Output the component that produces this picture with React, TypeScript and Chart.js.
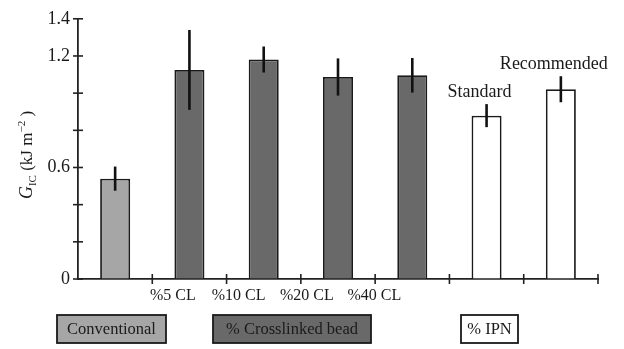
import React, { useEffect, useRef } from "react";
import { Chart, registerables } from "chart.js";

Chart.register(...registerables);

// ---- data ----
const categories = ["Conventional", "%5 CL", "%10 CL", "%20 CL", "%40 CL", "Standard", "Recommended"];
const groups = ["conv", "cl", "cl", "cl", "cl", "ipn", "ipn"];
const gicValues = [0.54, 1.125, 1.181, 1.087, 1.096, 0.879, 1.021];
const gicErrors = [0.065, 0.215, 0.07, 0.1, 0.093, 0.062, 0.07];
const axisLabels = ["", "%5 CL", "%10 CL", "%20 CL", "%40 CL", "", ""];
const barNotes = ["", "", "", "", "", "Standard", "Recommended"];
const yTickLabels = [0, 0.6, 1.2, 1.4];
const legendLabels = ["Conventional", "% Crosslinked bead", "% IPN"];
const legendGroups = ["conv", "cl", "ipn"];

// ---- styling / layout ----
const groupColors: Record<string, string> = { conv: "#a6a6a6", cl: "#696969", ipn: "#ffffff" };
const FONT = "'Liberation Serif', 'Times New Roman', serif";
const INK = "#1a1a1a";
const labelShift = [0, -16.6, -25.2, -31.2, -38, 0, 0];
const legendBoxes = [
  { x: 57, w: 109 },
  { x: 213, w: 158 },
  { x: 461, w: 57 },
];
const LEGEND_Y = 315;
const LEGEND_H = 28;

const overlay = {
  id: "overlay",
  afterDraw(chart: any) {
    const ctx = chart.ctx as CanvasRenderingContext2D;
    const xs = chart.scales.x;
    const ys = chart.scales.y;
    const area = chart.chartArea;
    const meta = chart.getDatasetMeta(0);
    ctx.save();

    // tick crosses on y axis
    ctx.strokeStyle = "#222";
    ctx.lineWidth = 1.6;
    ys.ticks.forEach((t: any) => {
      const y = ys.getPixelForValue(t.value);
      ctx.beginPath();
      ctx.moveTo(area.left - 5, y);
      ctx.lineTo(area.left + 5, y);
      ctx.stroke();
    });
    // tick crosses on x axis at category boundaries
    for (let i = 1; i <= categories.length; i++) {
      const x = xs.getPixelForValue(i - 0.5);
      ctx.beginPath();
      ctx.moveTo(x, area.bottom - 5);
      ctx.lineTo(x, area.bottom + 5);
      ctx.stroke();
    }

    // error bars
    ctx.strokeStyle = "#111";
    ctx.lineWidth = 2.6;
    meta.data.forEach((bar: any, i: number) => {
      const yTop = ys.getPixelForValue(gicValues[i] + gicErrors[i]);
      const yBot = ys.getPixelForValue(gicValues[i] - gicErrors[i]);
      ctx.beginPath();
      ctx.moveTo(bar.x, yTop);
      ctx.lineTo(bar.x, yBot);
      ctx.stroke();
    });

    // notes above bars
    ctx.fillStyle = INK;
    ctx.textAlign = "center";
    ctx.textBaseline = "alphabetic";
    ctx.font = `18px ${FONT}`;
    meta.data.forEach((bar: any, i: number) => {
      if (!barNotes[i]) return;
      const yTop = ys.getPixelForValue(gicValues[i] + gicErrors[i]);
      ctx.fillText(barNotes[i], bar.x - 7, yTop - 7);
    });

    // category labels under axis
    ctx.font = `16px ${FONT}`;
    meta.data.forEach((bar: any, i: number) => {
      if (!axisLabels[i]) return;
      ctx.fillText(axisLabels[i], bar.x + labelShift[i], area.bottom + 21);
    });

    // group legend boxes
    legendBoxes.forEach((b, i) => {
      ctx.fillStyle = groupColors[legendGroups[i]];
      ctx.fillRect(b.x, LEGEND_Y, b.w, LEGEND_H);
      ctx.strokeStyle = "#1a1a1a";
      ctx.lineWidth = 1.8;
      ctx.strokeRect(b.x, LEGEND_Y, b.w, LEGEND_H);
      ctx.fillStyle = INK;
      ctx.textAlign = "center";
      ctx.textBaseline = "middle";
      ctx.font = `16.5px ${FONT}`;
      ctx.fillText(legendLabels[i], b.x + b.w / 2, LEGEND_Y + LEGEND_H / 2 + 1);
    });

    // y axis title: G_IC (kJ m^-2 )
    const parts = [
      { t: "G", f: `italic 18px ${FONT}`, dy: 0 },
      { t: "IC", f: `11px ${FONT}`, dy: 4 },
      { t: " (kJ m", f: `17px ${FONT}`, dy: 0 },
      { t: "\u22122", f: `11px ${FONT}`, dy: -7 },
      { t: " )", f: `17px ${FONT}`, dy: 0 },
    ];
    let total = 0;
    parts.forEach((p) => {
      ctx.font = p.f;
      total += ctx.measureText(p.t).width;
    });
    ctx.translate(26, 155);
    ctx.rotate(-Math.PI / 2);
    ctx.textAlign = "left";
    ctx.textBaseline = "alphabetic";
    let cx = -total / 2;
    parts.forEach((p) => {
      ctx.font = p.f;
      ctx.fillText(p.t, cx, 6 + p.dy);
      cx += ctx.measureText(p.t).width;
    });

    ctx.restore();
  },
};

export default function App() {
  const ref = useRef<HTMLCanvasElement | null>(null);
  useEffect(() => {
    if (!ref.current) return;
    const chart = new Chart(ref.current, {
      type: "bar",
      data: {
        labels: categories,
        datasets: [
          {
            data: gicValues,
            backgroundColor: groups.map((g) => groupColors[g]),
            borderColor: "#1a1a1a",
            borderWidth: 1.8,
            categoryPercentage: 1,
            barPercentage: 0.404,
          },
        ],
      },
      options: {
        responsive: false,
        animation: false,
        layout: { padding: { top: 16, right: 26, left: 0, bottom: 0 } },
        plugins: { legend: { display: false }, tooltip: { enabled: false } },
        scales: {
          x: {
            offset: true,
            grid: { display: true, drawOnChartArea: false, drawTicks: false, offset: true },
            border: { display: true, color: "#222", width: 1.8 },
            ticks: { display: false },
            afterFit: (s: any) => {
              s.height = 70;
            },
          },
          y: {
            min: 0,
            max: 1.4,
            grid: { display: true, drawOnChartArea: false, drawTicks: false },
            border: { display: true, color: "#222", width: 1.8 },
            ticks: {
              stepSize: 0.2,
              padding: 8,
              color: INK,
              font: { family: FONT, size: 18 },
              callback: (v: any) => {
                const r = Math.round(Number(v) * 10) / 10;
                return yTickLabels.some((t) => Math.abs(t - r) < 1e-6) ? String(r) : "";
              },
            },
            afterFit: (s: any) => {
              s.width = 78;
            },
          },
        },
      },
      plugins: [overlay],
    });
    return () => chart.destroy();
  }, []);
  return (
    <div style={{ position: "absolute", left: 0, top: 0, width: 624, height: 349, background: "#fff" }}>
      <canvas ref={ref} width={624} height={349} />
    </div>
  );
}
